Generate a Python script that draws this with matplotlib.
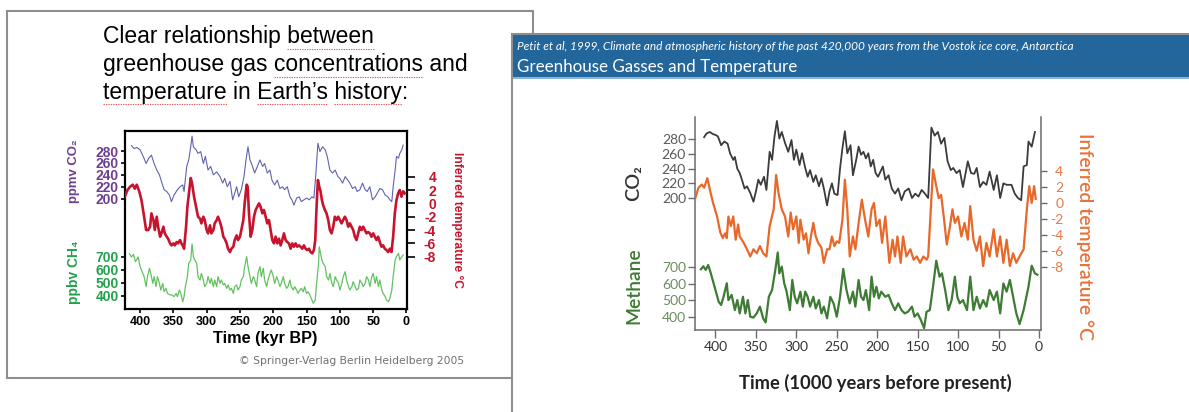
import matplotlib
matplotlib.use('Agg')
import matplotlib.pyplot as plt
from matplotlib.patches import Rectangle
from matplotlib.lines import Line2D
from matplotlib.font_manager import FontProperties

plt.rcParams['axes.unicode_minus'] = False
plt.rcParams['font.family'] = ['Liberation Sans', 'DejaVu Sans']

W, H = 1189, 412

# ---- left slide: Springer version of the Vostok record (kyr BP) ----
sp_co2_kyr = [413, 409, 405, 400, 395, 391, 387, 383, 379, 375, 371, 368, 364, 360, 356,
              353, 349, 344, 340, 336, 334, 330, 327, 324, 322, 320, 316, 313, 309, 305,
              302, 298, 294, 290, 285, 280, 276, 273, 269, 265, 261, 258, 255, 252, 248,
              244, 241, 238, 235, 232, 228, 224, 220, 216, 213, 209, 205, 202, 198, 194,
              190, 186, 183, 179, 175, 172, 169, 165, 161, 158, 154, 150, 146, 142, 139,
              136, 133, 130, 126, 122, 119, 115, 111, 107, 103, 100, 96, 92, 88, 85,
              81, 77, 74, 70, 66, 62, 59, 55, 51, 47, 44, 40, 36, 32, 28,
              25, 22, 20, 17, 15, 12, 10, 7, 5]
sp_co2 = [289, 284, 286, 282, 270, 259, 268, 273, 259, 248, 240, 229, 215, 212, 206,
          195, 206, 215, 220, 223, 212, 254, 265, 287, 305, 287, 282, 276, 279, 259,
          271, 248, 254, 240, 245, 237, 226, 234, 220, 229, 198, 209, 220, 203, 215,
          237, 265, 287, 265, 257, 243, 254, 265, 254, 259, 243, 248, 231, 223, 231,
          217, 220, 215, 220, 203, 198, 189, 201, 203, 195, 198, 201, 198, 203, 201,
          243, 293, 279, 287, 282, 271, 248, 243, 248, 237, 234, 226, 237, 231, 226,
          217, 220, 212, 215, 226, 215, 212, 220, 198, 203, 209, 217, 215, 206, 203,
          198, 195, 220, 248, 271, 268, 276, 282, 290]

sp_temp_kyr = [423, 419, 415, 411, 408, 405, 401, 398, 394, 391, 388, 385, 383, 380, 378,
               375, 373, 370, 368, 365, 363, 360, 358, 355, 353, 350, 348, 345, 343, 340,
               338, 335, 334, 331, 329, 326, 324, 322, 319, 316, 313, 310, 308, 305, 303,
               300, 298, 295, 293, 290, 288, 285, 283, 280, 278, 275, 273, 270, 268, 265,
               263, 260, 258, 255, 253, 250, 248, 245, 243, 240, 238.5, 236.5, 234, 231.5, 229,
               226.5, 224, 221.5, 219, 216.5, 214, 211.5, 209, 206.5, 204, 201.5, 199, 196.5, 194, 191.5,
               189, 186.5, 184, 181.5, 179, 176.5, 174, 171.5, 169, 166.5, 164, 161.5, 159, 156.5, 154,
               151.5, 149, 146.5, 144, 141.5, 139, 137, 135, 133, 131, 129, 127, 125, 122.5, 120,
               117.5, 115, 112.5, 110, 107.5, 105, 102.5, 100, 97.5, 95, 92.5, 90, 87.5, 85, 82.5,
               80, 77.5, 75, 72.5, 70, 67.5, 65, 62.5, 60, 57.5, 55, 52.5, 50, 47.5, 45,
               42.5, 40, 37.5, 35, 32.5, 30, 27.5, 25, 22.5, 20, 17.5, 15, 12.5, 10, 7.5,
               5, 2.5]
sp_temp = [1.0, 2.0, 2.5, 2.8, 2.2, 2.8, 1.7, 0.5, -2.0, -4.0, -4.0, -3.5, -1.5, -2.5, -4.0,
           -2.0, -3.5, -5.0, -4.5, -3.5, -4.5, -5.0, -5.3, -6.0, -6.3, -6.0, -6.3, -5.8, -6.0, -5.5,
           -6.0, -6.5, -6.8, -3.5, -0.5, 2.0, 3.8, 3.0, 1.0, -0.5, -2.0, -2.3, -3.0, -2.0, -2.5,
           -4.0, -4.5, -3.3, -4.5, -4.0, -3.0, -2.5, -2.0, -2.8, -3.5, -5.0, -5.3, -6.0, -6.8, -7.3,
           -6.8, -6.5, -5.5, -4.8, -5.5, -5.0, -4.0, -2.5, 0.0, 2.8, 2.5, -1.5, -5.0, -4.0, -2.0,
           -1.0, -0.5, 0.0, -0.5, -1.5, -1.0, -2.0, -3.0, -2.5, -4.0, -5.5, -6.0, -5.0, -6.0, -5.3,
           -6.3, -5.5, -4.5, -5.5, -5.8, -6.0, -6.8, -6.0, -6.5, -6.0, -6.5, -6.3, -6.5, -6.8, -6.3,
           -6.8, -7.0, -6.8, -7.3, -7.5, -7.0, -5.5, -0.5, 3.5, 2.5, 1.8, 0.5, -0.3, -1.0, -1.5,
           -2.5, -4.0, -4.5, -3.5, -2.0, -2.5, -2.0, -2.5, -3.0, -2.5, -2.0, -2.5, -3.5, -3.0, -3.5,
           -4.0, -5.0, -5.5, -4.5, -3.5, -4.0, -3.5, -4.0, -4.5, -4.3, -4.5, -5.0, -4.5, -5.0, -5.5,
           -5.0, -5.8, -6.5, -6.3, -6.8, -7.0, -7.3, -6.8, -7.3, -5.0, -1.5, 0.5, 1.5, 2.0, 1.0,
           1.8, 1.5]

sp_ch4_kyr = [416, 413, 410, 407, 403, 400, 397, 394, 391, 389, 386, 384, 381, 379, 376,
              374, 371, 369, 366, 364, 361, 359, 355, 352, 349, 346, 344, 341, 339, 336,
              334, 332, 329, 327, 324, 322, 320, 318, 315, 313, 310, 308, 305, 303, 300,
              298, 295, 293, 290, 288, 285, 283, 280, 278, 275, 273, 270, 268, 265, 263,
              260, 258, 255, 253, 250, 248, 245, 243, 240, 238, 235, 233, 230, 228, 225,
              223, 220, 218, 215, 213, 210, 208, 205, 203, 200, 198, 195, 193, 190, 188,
              185, 183, 180, 178, 175, 173, 170, 168, 165, 163, 160, 158, 155, 153, 150,
              148, 145, 142, 140, 137, 135, 132, 131, 129, 127, 125, 122, 120, 117, 115,
              112, 110, 107, 105, 102, 100, 97, 95, 92, 90, 87, 85, 82, 80, 77,
              75, 72, 70, 67, 65, 62, 60, 57, 55, 52, 50, 47, 45, 42, 40,
              37, 35, 32, 30, 27, 25, 22, 20, 17, 15, 12, 10, 7, 5]
sp_ch4 = [725, 700, 720, 664, 700, 626, 587, 549, 472, 549, 613, 574, 497, 549, 472,
          549, 497, 446, 497, 433, 459, 420, 408, 408, 395, 420, 395, 446, 420, 356,
          395, 472, 549, 651, 677, 800, 703, 677, 651, 549, 523, 574, 523, 472, 497,
          549, 497, 536, 472, 523, 472, 549, 497, 523, 485, 497, 459, 485, 446, 459,
          420, 472, 485, 446, 472, 523, 549, 626, 703, 626, 549, 497, 549, 523, 472,
          574, 626, 549, 613, 523, 472, 523, 574, 600, 549, 497, 549, 523, 472, 497,
          549, 497, 459, 472, 523, 472, 446, 472, 446, 420, 446, 459, 433, 472, 420,
          433, 408, 369, 344, 369, 497, 651, 779, 728, 677, 651, 626, 549, 523, 574,
          497, 472, 549, 523, 497, 446, 497, 549, 587, 523, 472, 446, 472, 510, 472,
          446, 459, 523, 497, 472, 497, 549, 523, 472, 549, 574, 497, 549, 472, 523,
          446, 420, 395, 369, 356, 382, 446, 549, 677, 703, 728, 677, 703, 715]

# ---- right slide: Petit et al. 1999 ----
pt_co2_kyr = [414, 411, 407, 403, 400, 397, 393, 389, 385, 382, 378, 376, 373, 370, 367,
              364, 361, 357, 353, 350, 347, 344, 340, 337, 333, 330, 327, 324, 321, 318,
              314, 310, 306, 303, 300, 296, 293, 289, 286, 283, 279, 276, 272, 269, 266,
              262, 259, 256, 253, 249, 246, 243, 240, 237, 233, 230, 226, 223, 220, 217,
              214, 211, 208, 205, 202, 199, 196, 193, 190, 186, 182, 178, 174, 170, 166,
              161, 157, 153, 149, 145, 141, 137, 133, 129, 125, 121, 117, 113, 109, 106,
              102, 98, 94, 88, 84, 80, 77, 73, 69, 65, 61, 56, 52, 48, 44,
              40, 34, 30, 26, 22, 19, 15, 13, 9, 5]
pt_co2 = [283, 288, 290, 287, 286, 284, 272, 277, 274, 261, 252, 256, 240, 234, 224,
          213, 216, 207, 195, 209, 225, 218, 229, 211, 263, 252, 284, 305, 281, 290,
          275, 263, 279, 252, 266, 245, 261, 241, 229, 238, 222, 231, 216, 227, 213,
          190, 209, 220, 206, 204, 240, 268, 291, 261, 272, 231, 252, 270, 259, 263,
          254, 261, 243, 252, 234, 229, 236, 243, 225, 231, 213, 206, 213, 197, 209,
          213, 200, 206, 202, 211, 206, 200, 296, 285, 290, 274, 282, 250, 238, 241,
          234, 238, 215, 250, 234, 233, 241, 215, 222, 218, 236, 211, 231, 200, 220,
          218, 218, 206, 200, 197, 243, 245, 277, 270, 290]

pt_temp_kyr = [425, 421, 417, 414, 410, 407, 403, 398, 394, 391, 388, 386, 384, 381, 378,
               375, 372, 370, 365, 361, 357, 353, 349, 345, 341, 337, 333, 328, 325, 322,
               318, 314, 310, 307, 304, 300, 297, 295, 291, 288, 285, 282, 279, 276, 273,
               269, 266, 262, 259, 256, 253, 250, 247, 243, 240, 237, 234, 230, 227, 223,
               219, 215, 211, 207, 204, 201, 197, 194, 190, 185, 181, 178, 175, 171, 168,
               164, 159, 155, 151, 147, 143, 139, 137, 131, 127, 124, 121, 118, 114, 110,
               107, 104, 100, 96, 92, 88, 85, 81, 77, 73, 69, 65, 61, 56, 52,
               48, 44, 40, 36, 32, 28, 24, 19, 15, 12, 9, 6, 4]
pt_temp = [0.6, 1.9, 2.3, 1.9, 3.1, 1.7, 0.0, -1.7, -3.7, -4.4, -3.8, -4.4, -1.7, -2.9, -1.7,
           -4.6, -2.7, -4.2, -5.0, -5.8, -6.7, -5.8, -6.3, -5.4, -6.3, -6.7, -2.9, -0.8, 3.5, 1.2,
           -0.8, -1.7, -4.2, -1.2, -3.3, -1.7, -5.0, -2.1, -4.6, -3.8, -6.3, -4.2, -2.5, -4.2, -5.0,
           -5.6, -7.5, -5.8, -5.8, -4.2, -5.4, -4.8, -5.0, -2.1, 2.9, -0.8, -6.7, -4.2, -5.8, -2.5,
           0.4, -2.1, -4.2, -0.8, 0.0, -2.9, -2.1, -5.0, -1.7, -7.5, -4.6, -6.7, -4.2, -7.5, -4.2,
           -6.7, -5.8, -7.1, -6.7, -7.5, -6.7, -7.1, -6.7, 4.2, 2.1, 0.6, 1.0, -1.5, -5.2, -2.9,
           -0.8, -2.5, -1.7, -4.2, -2.5, -4.6, -0.4, -4.6, -6.0, -4.2, -7.9, -5.0, -6.7, -3.3, -6.7,
           -4.2, -7.5, -4.6, -7.9, -6.3, -7.5, -6.7, -5.8, -0.8, 2.1, 0.0, 2.1, 0.5]

pt_ch4_kyr = [418, 415, 412, 409, 406, 400, 396, 393, 390, 386, 384, 380, 376, 373, 370,
              366, 363, 360, 357, 353, 349, 345, 341, 338, 334, 330, 326, 323, 321, 318,
              315, 312, 308, 305, 302, 299, 295, 292, 289, 286, 283, 279, 276, 272, 269,
              266, 262, 258, 254, 250, 246, 242, 238, 234, 230, 227, 223, 220, 217, 214,
              210, 207, 204, 201, 198, 195, 190, 186, 182, 178, 174, 170, 166, 162, 157,
              154, 150, 146, 142, 139, 135, 131, 127, 123, 120, 116, 112, 108, 104, 101,
              98, 94, 89, 85, 81, 77, 73, 69, 65, 61, 56, 52, 48, 44, 40,
              36, 32, 28, 24, 19, 13, 9, 5, 2]
pt_ch4 = [688, 706, 684, 714, 668, 562, 491, 471, 521, 603, 501, 532, 440, 501, 420,
          521, 420, 501, 400, 395, 420, 461, 390, 365, 521, 562, 684, 790, 663, 704,
          603, 552, 440, 623, 521, 481, 552, 461, 552, 521, 461, 521, 450, 501, 420,
          461, 390, 521, 481, 400, 521, 690, 562, 481, 552, 461, 623, 521, 501, 562,
          440, 643, 521, 582, 511, 552, 521, 532, 481, 440, 481, 440, 420, 430, 461,
          400, 420, 379, 330, 430, 440, 582, 740, 643, 663, 562, 440, 501, 643, 521,
          481, 501, 440, 643, 440, 521, 450, 501, 461, 562, 501, 552, 420, 602, 552,
          623, 521, 420, 355, 440, 582, 710, 663, 655]

time_ticks = [400, 350, 300, 250, 200, 150, 100, 50, 0]
co2_ticks = [200, 220, 240, 260, 280]
ch4_ticks = [400, 500, 600, 700]
temp_ticks = [-8, -6, -4, -2, 0, 2, 4]

title_lines = ['Clear relationship between',
               'greenhouse gas concentrations and',
               'temperature in Earth\u2019s history:']
squiggle_words = [['between'], ['concentrations'],
                  ['temperature', 'Earth\u2019s', 'history']]


def fx(x):
    return x / W


def fy(y):
    return 1 - y / H


def px_rect(x0, y0, x1, y1):
    return [fx(x0), fy(y1), fx(x1) - fx(x0), fy(y0) - fy(y1)]


fig = plt.figure(figsize=(W / 100, H / 100), dpi=100)
renderer = fig.canvas.get_renderer()


def fitted_text(x, y, s, length, rotation=0, ha='center', va='center', **kw):
    # size the text so that it spans `length` pixels, as in the picture
    t = fig.text(fx(x), fy(y), s, fontsize=10, rotation=rotation, ha=ha, va=va, **kw)
    bb = t.get_window_extent(renderer)
    t.set_fontsize(10 * length / (bb.width if rotation == 0 else bb.height))
    return t


def text_width(s, fp):
    return renderer.get_text_width_height_descent(s, fp, ismath=False)[0]


# slide frames
fig.add_artist(Rectangle((fx(7), fy(378)), fx(533) - fx(7), fy(11) - fy(378),
                         transform=fig.transFigure, facecolor='white',
                         edgecolor='#8e8e8e', lw=1.5, zorder=-10))
fig.add_artist(Rectangle((fx(512), fy(430)), fx(1210) - fx(512), fy(34) - fy(430),
                         transform=fig.transFigure, facecolor='white',
                         edgecolor='#8e8e8e', lw=1.5, zorder=-9))
fig.add_artist(Rectangle((fx(513), fy(77)), fx(1210) - fx(513), fy(35) - fy(77),
                         transform=fig.transFigure, facecolor='#22669c', lw=0, zorder=-8))
fig.add_artist(Rectangle((fx(513), fy(79)), fx(1210) - fx(513), 2 / H,
                         transform=fig.transFigure, facecolor='#8db6d6', lw=0, zorder=-8))

# ---------------- left slide ----------------
t2 = fitted_text(103, 71, title_lines[1], 365, ha='left', va='baseline',
                 family='Liberation Sans', color='black')
title_size = t2.get_fontsize()
t2.remove()
title_fp = FontProperties(family='Liberation Sans', size=title_size)
for line, base, words in zip(title_lines, [43.5, 71, 98.5], squiggle_words):
    fig.text(fx(103), fy(base), line, fontsize=title_size, ha='left', va='baseline',
             family='Liberation Sans', color='black')
    for word in words:
        k = line.index(word)
        x1 = 103 + text_width(line[:k] + word, title_fp) - text_width(word, title_fp)
        x2 = x1 + text_width(word, title_fp)
        fig.add_artist(Line2D([fx(x1), fx(x2)], [fy(base + 5.5)] * 2, transform=fig.transFigure,
                              color='#e05a5a', lw=0.8, ls=(0, (1.2, 1.0))))

ax = fig.add_axes(px_rect(125, 131, 407, 309))
ax_t = ax.twinx()
ax_m = ax.twinx()
for a in (ax, ax_t, ax_m):
    a.patch.set_visible(False)
ax.set_xlim(422.7, -0.8)
ax.set_ylim(14.6, 313.6)
ax_m.set_ylim(300, 1669)
ax_t.set_ylim(-15.84, 10.85)

ax.plot(sp_co2_kyr, sp_co2, color='#6162b0', lw=0.8)
ax_t.plot(sp_temp_kyr, sp_temp, color='#c8132e', lw=1.9)
ax_m.plot(sp_ch4_kyr, sp_ch4, color='#63c260', lw=0.9)

for s in ax.spines.values():
    s.set_linewidth(1.6)
for a in (ax_t, ax_m):
    for s in a.spines.values():
        s.set_visible(False)

ax.set_xticks(time_ticks)
ax.set_yticks(co2_ticks)
ax.tick_params(axis='x', length=3, width=1.2, pad=2, labelsize=9)
ax.tick_params(axis='y', length=3, width=1.2, pad=1.5, labelsize=10, labelcolor='#6e3f90')
ax_m.yaxis.set_ticks_position('left')
ax_m.set_yticks(ch4_ticks)
ax_m.tick_params(axis='y', length=3, width=1.2, pad=1.5, labelsize=10, labelcolor='#22a04c')
ax_t.set_yticks(temp_ticks)
ax_t.tick_params(axis='y', length=6, width=1.2, pad=15, labelsize=10, labelcolor='#c4162d')
plt.setp(ax_t.get_yticklabels(), ha='right')
plt.setp(ax.get_xticklabels() + ax.get_yticklabels() + ax_m.get_yticklabels()
         + ax_t.get_yticklabels(), fontweight='bold')

fitted_text(74, 171.5, 'ppmv CO\u2082', 64, rotation=90, color='#6e3f90', fontweight='bold',
            family=['Liberation Sans', 'DejaVu Sans'])
fitted_text(74, 272.5, 'ppbv CH\u2084', 63, rotation=90, color='#22a04c', fontweight='bold',
            family=['Liberation Sans', 'DejaVu Sans'])
fitted_text(457, 220, 'Inferred temperature \u00b0C', 136, rotation=270, color='#c4162d',
            fontweight='bold')
fitted_text(265, 338, 'Time (kyr BP)', 105, fontweight='bold', color='black')
fitted_text(352, 361, '\u00a9 Springer-Verlag Berlin Heidelberg 2005', 224,
            color='#707070', family='DejaVu Sans')

# ---------------- right slide ----------------
fitted_text(517, 50, 'Petit et al, 1999, Climate and atmospheric history of the past '
            '420,000 years from the Vostok ice core, Antarctica', 556,
            ha='left', va='baseline', color='white', style='italic', family='Lato')
fitted_text(517, 72, 'Greenhouse Gasses and Temperature', 282,
            ha='left', va='baseline', color='white', family='Lato')

bx = fig.add_axes(px_rect(695, 117, 1041, 330))
bx_t = bx.twinx()
bx_m = bx.twinx()
for a in (bx, bx_t, bx_m):
    a.patch.set_visible(False)
bx.set_xlim(425.3, -2.5)
bx.set_ylim(20.2, 310.4)
bx_m.set_ylim(319.2, 1612.6)
bx_t.set_ylim(-15.9, 10.75)

bx.plot(pt_co2_kyr, pt_co2, color='#3b3b3b', lw=1.3)
bx_t.plot(pt_temp_kyr, pt_temp, color='#e8682a', lw=1.6)
bx_m.plot(pt_ch4_kyr, pt_ch4, color='#3e7b34', lw=1.6)

axis_grey = '#6b6b6b'
bx.spines['top'].set_visible(False)
for side in ('left', 'right', 'bottom'):
    bx.spines[side].set_color(axis_grey)
    bx.spines[side].set_linewidth(1.1)
for a in (bx_t, bx_m):
    for s in a.spines.values():
        s.set_visible(False)

bx.set_xticks(time_ticks)
bx.set_yticks(co2_ticks)
bx.tick_params(axis='x', length=6, width=1, color=axis_grey, pad=2, labelsize=10,
               labelcolor='#333333')
bx.tick_params(axis='y', length=5, width=1, color=axis_grey, pad=1.5, labelsize=10,
               labelcolor='#5a5a5a')
bx_m.yaxis.set_ticks_position('left')
bx_m.set_yticks(ch4_ticks)
bx_m.tick_params(axis='y', length=5, width=1, color=axis_grey, pad=1.5, labelsize=10,
                 labelcolor='#6a8e5e')
bx_t.set_yticks(temp_ticks)
bx_t.tick_params(axis='y', length=4.5, width=1, color=axis_grey, pad=11.5, labelsize=10,
                 labelcolor='#e87a43')
plt.setp(bx_t.get_yticklabels(), ha='right')
plt.setp(bx.get_xticklabels() + bx.get_yticklabels() + bx_m.get_yticklabels()
         + bx_t.get_yticklabels(), family='Lato')

fitted_text(634, 183, 'CO\u2082', 36, rotation=90, color='#333333', fontweight='semibold',
            family=['Lato', 'DejaVu Sans'])
fitted_text(634, 286, 'Methane', 77, rotation=90, color='#3d7a30', fontweight='semibold',
            family='Lato')
fitted_text(1085, 236.5, 'Inferred temperature \u00b0C', 207, rotation=270, color='#e8733a',
            fontweight='semibold', family='Lato')
fitted_text(875, 383, 'Time (1000 years before present)', 273, color='#222222',
            family='Lato', fontweight='bold')

fig.savefig('out.png', dpi=100)
